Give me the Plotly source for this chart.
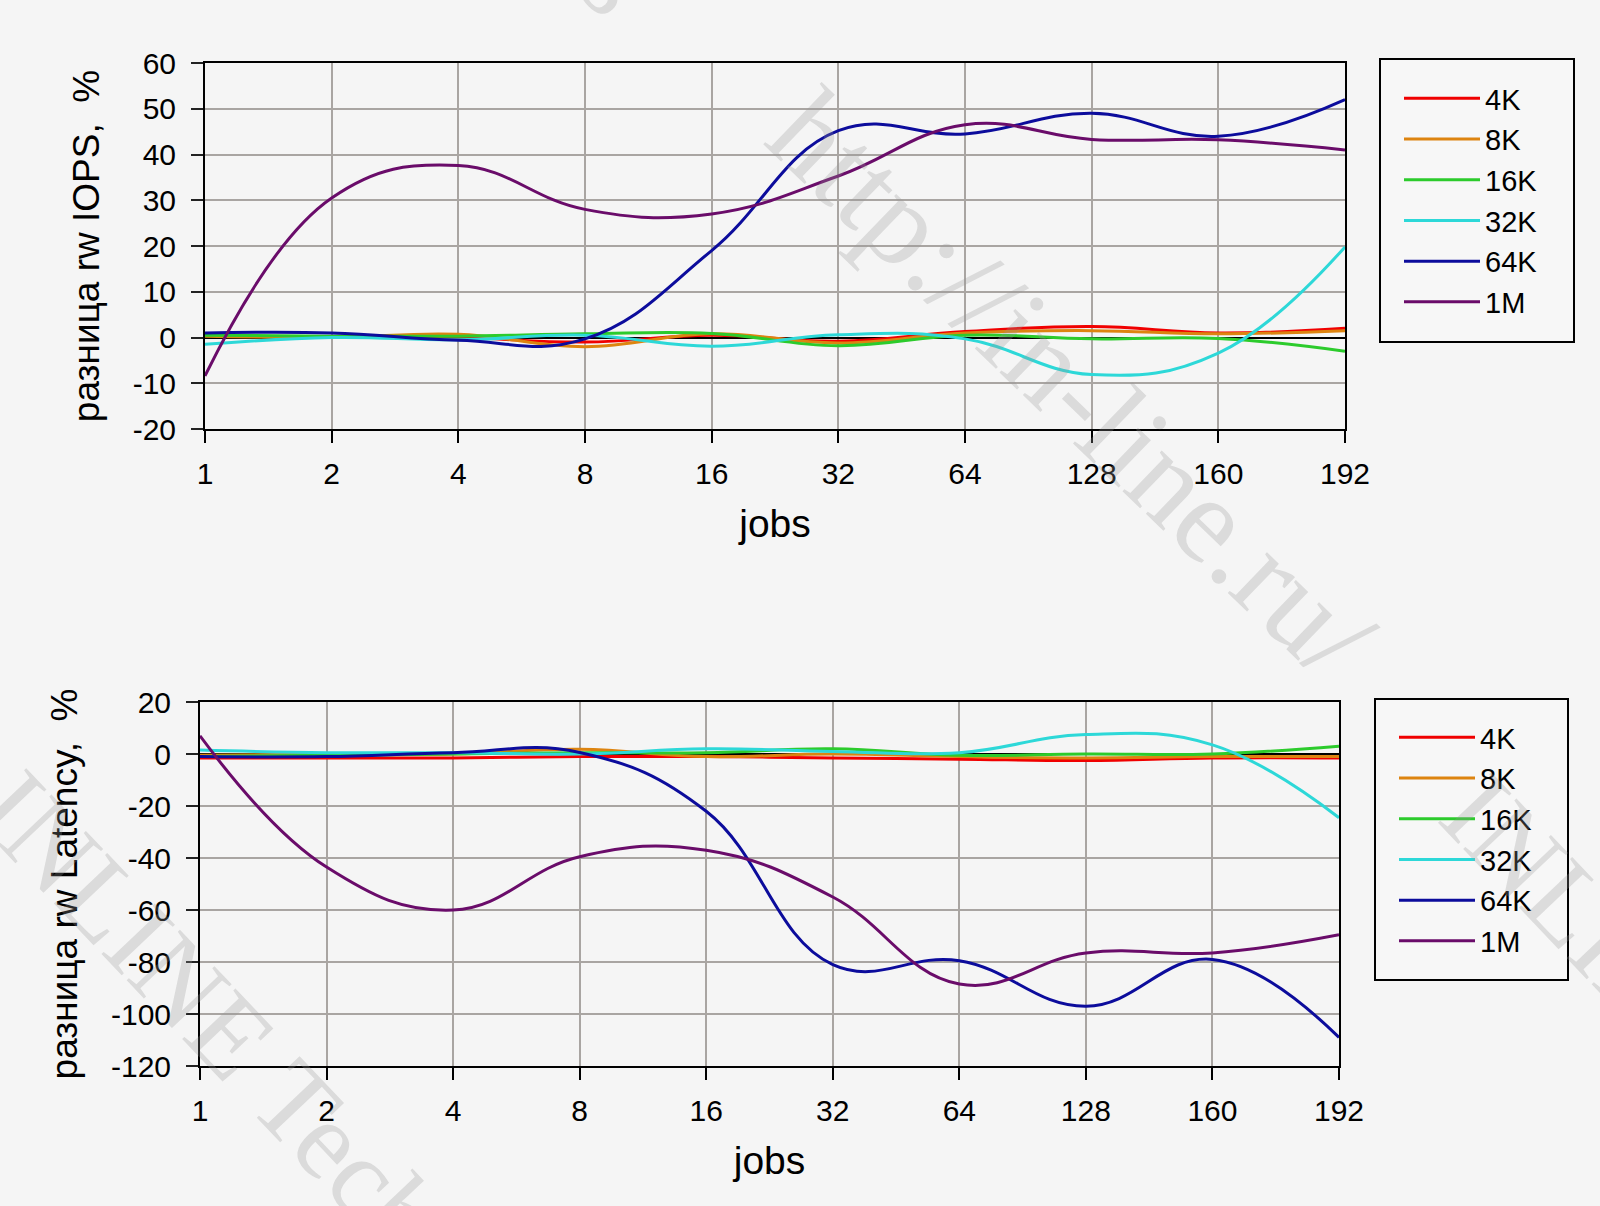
import plotly.graph_objects as go

jobs = ["1", "2", "4", "8", "16", "32", "64", "128", "160", "192"]
sizes = ["4K", "8K", "16K", "32K", "64K", "1M"]
colors = ["#F00000", "#DD8410", "#2CCB2C", "#2DD8D8", "#0C0C9C", "#6A0C6A"]

# difference rw IOPS, %
iops_4k = [0.5, 0.0, 0.0, -1.0, 0.5, -0.8, 1.3, 2.4, 1.0, 2.0]
iops_8k = [0.3, 0.0, 0.7, -2.0, 0.8, -1.2, 1.0, 1.5, 0.8, 1.5]
iops_16k = [0.5, 0.3, 0.3, 0.8, 0.9, -1.8, 0.5, -0.3, -0.2, -3.0]
iops_32k = [-1.5, 0.0, -0.5, 0.5, -1.9, 0.6, -0.3, -8.1, -3.4, 19.8]
iops_64k = [1.0, 1.0, -0.6, -0.3, 19.0, 45.2, 44.5, 49.0, 44.0, 52.0]
iops_1m = [-8.4, 30.5, 37.6, 28.0, 27.0, 35.3, 46.5, 43.3, 43.2, 41.0]

# difference rw Latency, %
lat_4k = [-1.5, -1.5, -1.5, -1.0, -1.0, -1.5, -2.0, -2.5, -1.5, -1.5]
lat_8k = [-0.5, 0.0, 0.0, 1.8, -1.0, 0.0, -1.0, -1.5, -1.0, -1.0]
lat_16k = [-1.0, -0.5, 0.0, 0.5, 0.5, 2.0, -0.5, 0.0, 0.0, 3.0]
lat_32k = [1.5, 0.5, 0.5, 0.0, 2.0, 1.0, 0.5, 7.5, 3.5, -24.5]
lat_64k = [-1.0, -1.0, 0.5, 0.6, -22.0, -81.0, -79.5, -97.0, -79.0, -109.0]
lat_1m = [7.0, -43.5, -60.0, -39.5, -37.0, -55.0, -88.5, -76.5, -76.5, -69.5]

iops = [iops_4k, iops_8k, iops_16k, iops_32k, iops_64k, iops_1m]
lat = [lat_4k, lat_8k, lat_16k, lat_32k, lat_64k, lat_1m]

iops_ticks = [-20, -10, 0, 10, 20, 30, 40, 50, 60]
iops_ticktext = ["-20", "-10", "0", "10", "20", "30", "40", "50", "60"]
lat_ticks = [-120, -100, -80, -60, -40, -20, 0, 20]
lat_ticktext = ["-120", "-100", "-80", "-60", "-40", "-20", "0", "20"]

FONT = "Liberation Sans, Arial, sans-serif"
SERIF = "Liberation Serif, Times New Roman, serif"
BG = "#F5F5F5"
GRID = "#A9A5A2"

fig = go.Figure()
for name, col, ys in zip(sizes, colors, iops):
    fig.add_trace(go.Scatter(x=jobs, y=ys, name=name, mode="lines",
                             line=dict(color=col, width=3, shape="spline", smoothing=1.2),
                             xaxis="x", yaxis="y", legend="legend",
                             legendgroup="a" + name))
for name, col, ys in zip(sizes, colors, lat):
    fig.add_trace(go.Scatter(x=jobs, y=ys, name=name, mode="lines",
                             line=dict(color=col, width=3, shape="spline", smoothing=1.2),
                             xaxis="x2", yaxis="y2", legend="legend2",
                             legendgroup="b" + name))

W, H = 1600, 1206

def xax(domain, anchor):
    return dict(domain=domain, anchor=anchor, type="category", range=[0, 9],
                showgrid=True, gridcolor=GRID, gridwidth=2,
                showline=True, linecolor="black", linewidth=2, mirror=True,
                ticks="outside", ticklen=12, tickwidth=2, tickcolor="black",
                tickfont=dict(family=FONT, size=30, color="black"),
                ticklabelstandoff=5,
                title=dict(text="jobs", font=dict(family=FONT, size=39, color="black"),
                           standoff=21))

def yax(domain, anchor, rng, tv, tt, title, standoff):
    return dict(domain=domain, anchor=anchor, range=rng,
                tickmode="array", tickvals=tv, ticktext=tt,
                showgrid=True, gridcolor=GRID, gridwidth=2,
                zeroline=True, zerolinecolor="black", zerolinewidth=2,
                showline=True, linecolor="black", linewidth=2, mirror=True,
                ticks="outside", ticklen=12, tickwidth=2, tickcolor="#222222",
                tickfont=dict(family=FONT, size=30, color="black"),
                ticklabelstandoff=9,
                title=dict(text=title, font=dict(family=FONT, size=37, color="black"),
                           standoff=standoff))

legend_common = dict(xanchor="left", yanchor="top", bgcolor="rgba(0,0,0,0)",
                     borderwidth=0,
                     font=dict(family=FONT, size=29, color="black"),
                     itemwidth=76, tracegroupgap=0)

wm = "rgba(150,150,150,0.28)"

def watermark(text, cx, cy, size, angle):
    return dict(text=text, xref="paper", yref="paper", x=cx / W, y=1 - cy / H,
                xanchor="center", yanchor="middle", showarrow=False,
                textangle=angle, font=dict(family=SERIF, size=size, color=wm))

fig.update_layout(
    width=W, height=H,
    margin=dict(l=0, r=0, t=0, b=0, autoexpand=False),
    paper_bgcolor=BG, plot_bgcolor=BG,
    xaxis=xax([205 / W, 1345 / W], "y"),
    yaxis=yax([1 - 429 / H, 1 - 63 / H], "x", [-20, 60], iops_ticks, iops_ticktext,
              "разница rw IOPS,  %", 22),
    xaxis2=xax([200 / W, 1339 / W], "y2"),
    yaxis2=yax([1 - 1066 / H, 1 - 702 / H], "x2", [-120, 20], lat_ticks, lat_ticktext,
               "разница rw Latency,  %", 22),
    legend=dict(x=1399 / W, y=1 - 73 / H, **legend_common),
    legend2=dict(x=1394 / W, y=1 - 712 / H, **legend_common),
    shapes=[
        dict(type="rect", xref="paper", yref="paper", layer="below",
             x0=1380 / W, x1=1574 / W, y0=1 - 342 / H, y1=1 - 59 / H,
             fillcolor="#F7F7F7", line=dict(color="black", width=2)),
        dict(type="rect", xref="paper", yref="paper", layer="below",
             x0=1375 / W, x1=1568 / W, y0=1 - 980 / H, y1=1 - 699 / H,
             fillcolor="#F7F7F7", line=dict(color="black", width=2)),
    ],
    annotations=[
        watermark("http://in-line.ru/", 1072, 384, 123, 44),
        watermark("INLINE Technologies", 340, 1150, 112, 46.5),
        watermark("INLINE Technologies", 1805, 1154, 112, 46.5),
        watermark("INLINE Technologies", 290, -365, 112, 46.5),
    ],
)

fig.write_html("out.html")
